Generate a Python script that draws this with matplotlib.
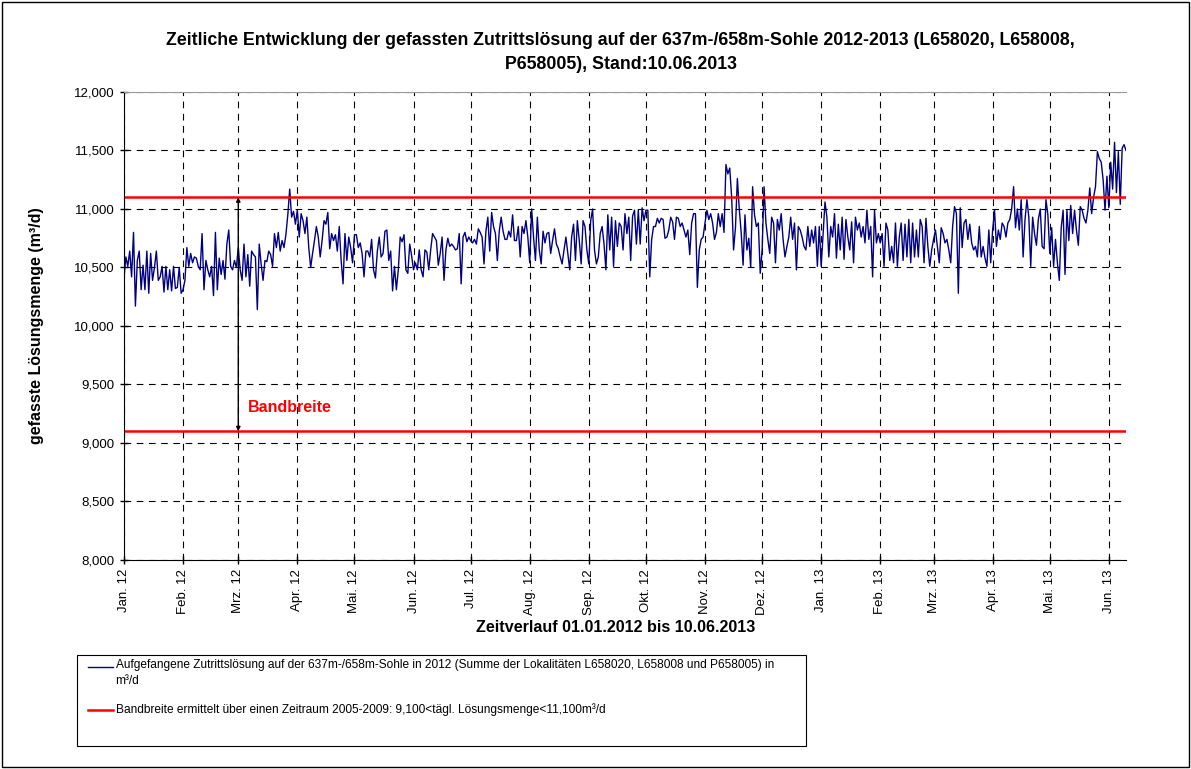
import matplotlib
matplotlib.use("Agg")
import matplotlib.pyplot as plt
from matplotlib.lines import Line2D
from matplotlib.patches import Rectangle
from matplotlib.ticker import FuncFormatter
import pandas as pd

plt.rcParams['font.family'] = ['Liberation Sans', 'DejaVu Sans']

# daily values (m³/d)
jan12 = [10410, 10590, 10510, 10640, 10420, 10800, 10170, 10560, 10640, 10310, 10520, 10310, 10640, 10280, 10620, 10390,
         10500, 10640, 10390, 10420, 10510, 10290, 10510, 10310, 10480, 10300, 10510, 10320, 10330, 10500, 10280]
feb12 = [10310, 10390, 10670, 10510, 10620, 10540, 10590, 10580, 10510, 10480, 10790, 10310, 10560, 10480, 10420, 10510,
         10260, 10800, 10310, 10580, 10440, 10560, 10400, 10700, 10820, 10510, 10480, 10560, 10500]
mar12 = [10670, 10480, 10390, 10700, 10420, 10610, 10340, 10640, 10610, 10590, 10140, 10700, 10530, 10390, 10560, 10550,
         10640, 10610, 10510, 10790, 10670, 10800, 10640, 10730, 10670, 10780, 10950, 11170, 10930, 10980, 10870]
apr12 = [10990, 10760, 10960, 10900, 10790, 10930, 10670, 10500, 10620, 10730, 10850, 10760, 10590, 10730, 10900, 10870,
         10970, 10660, 10790, 10730, 10780, 10640, 10850, 10560, 10360, 10790, 10560, 10760, 10670, 10540]
mai12 = [10780, 10780, 10670, 10710, 10620, 10420, 10640, 10640, 10590, 10740, 10480, 10410, 10640, 10760, 10590, 10620,
         10810, 10820, 10560, 10640, 10300, 10510, 10310, 10480, 10760, 10720, 10780, 10480, 10450, 10700, 10600]
jun12 = [10480, 10540, 10480, 10650, 10480, 10420, 10650, 10630, 10480, 10650, 10790, 10760, 10730, 10520, 10620, 10760,
         10390, 10650, 10750, 10680, 10700, 10680, 10650, 10660, 10790, 10360, 10760, 10800, 10720, 10760]
jul12 = [10730, 10710, 10740, 10700, 10830, 10800, 10760, 10530, 10810, 10930, 10640, 10970, 10850, 10790, 10560, 10810,
         10930, 10810, 10740, 10740, 10810, 10760, 10950, 10730, 10730, 10850, 10590, 10850, 10790, 10900, 10760]
aug12 = [10540, 11000, 10760, 10560, 10930, 10650, 10530, 10810, 10710, 10790, 10800, 10620, 10730, 10830, 10700, 10660,
         10590, 10530, 10650, 10760, 10620, 10480, 10760, 10870, 10560, 10900, 10730, 10530, 10900, 10850, 10650]
sep12 = [10530, 10900, 11000, 10650, 10530, 10590, 10790, 10850, 10700, 10480, 10950, 10650, 10930, 10510, 10900, 10680,
         10880, 10850, 10650, 10960, 10790, 10930, 10560, 10940, 10990, 10700, 10990, 10700, 11010, 10900]
okt12 = [10990, 10990, 10420, 10740, 10850, 10850, 10920, 10880, 10920, 10910, 10750, 10760, 10820, 10930, 10890, 10740,
         10930, 10920, 10850, 10880, 10820, 10760, 10820, 10610, 10880, 10960, 10960, 10330, 10650, 10740, 10760]
nov12 = [10880, 10990, 10910, 10960, 10880, 10740, 10800, 10960, 10850, 10960, 10800, 11380, 11300, 11350, 11100, 10650,
         10840, 11260, 11000, 10800, 10520, 10950, 10650, 10750, 10500, 11190, 10950, 10850, 10880, 10450]
dez12 = [10650, 11190, 10880, 10740, 10620, 10930, 10880, 10540, 10910, 10820, 10960, 10740, 10590, 10680, 10760, 10930,
         10740, 10880, 10480, 10850, 10820, 10760, 10680, 10650, 10850, 10680, 10820, 10710, 10850, 10510, 10850]
jan13 = [10510, 10790, 11060, 10930, 10590, 10850, 10760, 10960, 10580, 10870, 10650, 10930, 10570, 10910, 10760, 10650,
         10890, 10540, 10930, 10820, 10880, 10760, 10850, 10710, 10990, 10740, 10850, 10420, 10990, 10710, 10790]
feb13 = [10710, 10790, 10510, 10880, 10820, 10560, 10680, 10540, 10880, 10510, 10760, 10880, 10560, 10870, 10590, 10910,
         10540, 10880, 10590, 10820, 10590, 10910, 10850, 10540, 10920, 10680, 10510, 10650]
mar13 = [10740, 10820, 10680, 10540, 10840, 10790, 10710, 10740, 10650, 10540, 10850, 11020, 10960, 10280, 11010, 10670,
         10880, 10910, 10740, 10870, 10710, 10650, 10680, 10590, 10850, 10590, 10680, 10580, 10510, 10820, 10540]
apr13 = [10820, 10990, 10680, 10820, 10740, 10880, 10850, 10760, 10880, 10910, 11000, 11190, 10840, 11000, 10820, 11080,
         10590, 10910, 11080, 10930, 10510, 10930, 10790, 10690, 10910, 11000, 10680, 10660, 11080, 10950]
mai13 = [10620, 10840, 10510, 10740, 10540, 10390, 10840, 10990, 10440, 10990, 10730, 11030, 10790, 10990, 10820, 10690,
         11020, 10990, 10920, 10880, 10990, 11180, 10960, 11100, 11190, 11490, 11430, 11400, 11250, 10990, 11280]
jun13 = [11010, 11400, 11170, 11570, 11140, 11490, 11040, 11520, 11550, 11500]

values = (jan12 + feb12 + mar12 + apr12 + mai12 + jun12 + jul12 + aug12 + sep12 + okt12 + nov12 + dez12
          + jan13 + feb13 + mar13 + apr13 + mai13 + jun13)
dates = pd.date_range("2012-01-01", "2013-06-10", freq="D")

band_low = 9100
band_high = 11100

month_names = ["Jan.", "Feb.", "Mrz.", "Apr.", "Mai.", "Jun.", "Jul.", "Aug.", "Sep.", "Okt.", "Nov.", "Dez."]
month_ticks = pd.date_range("2012-01-01", "2013-06-01", freq="MS")
tick_labels = [f"{month_names[d.month - 1]} {d.year % 100}" for d in month_ticks]

title = ("Zeitliche Entwicklung der gefassten Zutrittslösung auf der 637m-/658m-Sohle 2012-2013 (L658020, L658008,\n"
         "P658005), Stand:10.06.2013")

fig = plt.figure(figsize=(11.91, 7.69), dpi=100)
ax = fig.add_axes([0.1041, 0.2718, 0.8413, 0.6086])

ax.plot(dates, values, color="#000080", lw=1.0)
ax.axhline(band_high, color="#ff0000", lw=1.8)
ax.axhline(band_low, color="#ff0000", lw=1.8)

x_arrow = pd.Timestamp("2012-03-01")
ax.annotate("", xy=(x_arrow, band_low), xytext=(x_arrow, band_high),
            arrowprops=dict(arrowstyle="<|-|>", color="black", lw=1.0, mutation_scale=6, shrinkA=0, shrinkB=0))
ax.text(pd.Timestamp("2012-03-06"), 9300, "Bandbreite", color="#ff0000", fontsize=11.5, fontweight="bold",
        va="center", ha="left")

ax.set_xlim(pd.Timestamp("2012-01-01"), pd.Timestamp("2013-06-10"))
ax.set_ylim(8000, 12000)
ax.set_yticks(range(8000, 12001, 500))
ax.yaxis.set_major_formatter(FuncFormatter(lambda v, p: f"{int(v):,}"))
ax.set_xticks(month_ticks)
ax.set_xticklabels(tick_labels, rotation=90)
ax.tick_params(axis="both", direction="inout", length=6, labelsize=9.5, width=1)

ax.grid(True, color="black", linestyle=(0, (6, 5)), lw=0.8)
ax.set_axisbelow(True)
ax.spines["top"].set_color("#999999")
ax.spines["right"].set_visible(False)

ax.set_xlabel("Zeitverlauf 01.01.2012 bis 10.06.2013", fontsize=11.6, fontweight="bold")
ax.xaxis.set_label_coords(0.491, -0.128)
ax.set_ylabel("gefasste Lösungsmenge (m³/d)", fontsize=11.5, fontweight="bold")
ax.yaxis.set_label_coords(-0.08, 0.5)
fig.text(0.521, 0.958, title, ha="center", va="top", fontsize=12.8, fontweight="bold", linespacing=1.5)

# legend box
fig.patches.append(Rectangle((0.0647, 0.030), 0.612, 0.118, transform=fig.transFigure,
                             fill=False, edgecolor="black", lw=0.8))
fig.add_artist(Line2D([0.074, 0.095], [0.132, 0.132], color="#000080", lw=1.0, transform=fig.transFigure))
fig.text(0.097, 0.1425, "Aufgefangene Zutrittslösung auf der 637m-/658m-Sohle in 2012 (Summe der Lokalitäten "
         "L658020, L658008 und P658005) in\nm³/d", fontsize=8.6, va="top", ha="left", linespacing=1.45)
fig.add_artist(Line2D([0.074, 0.095], [0.077, 0.077], color="#ff0000", lw=1.8, transform=fig.transFigure))
fig.text(0.097, 0.077, "Bandbreite ermittelt über einen Zeitraum 2005-2009: 9,100<tägl. Lösungsmenge<11,100m³/d",
         fontsize=8.6, va="center", ha="left")

# outer chart border
fig.patches.append(Rectangle((0.002, 0.003), 0.996, 0.994, transform=fig.transFigure,
                             fill=False, edgecolor="black", lw=1.0))

fig.savefig("out.png", dpi=100)
